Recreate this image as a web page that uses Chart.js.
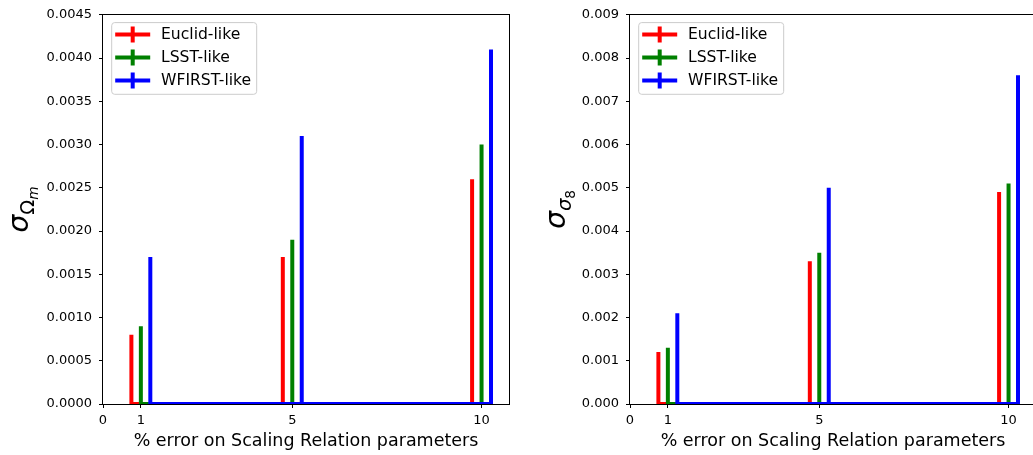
<!DOCTYPE html>
<html>
<head>
<meta charset="utf-8">
<script src="https://cdn.jsdelivr.net/npm/chart.js@4.4.1/dist/chart.umd.min.js"></script>
<style>
  html, body { margin: 0; padding: 0; background: #fff; overflow: hidden; width: 1033px; height: 455px; }
  .panel { position: absolute; top: 0; width: 520px; height: 455px; }
  #omegaPanel { left: 0; }
  #sigmaPanel { left: 527px; }
</style>
</head>
<body>
<div class="panel" id="omegaPanel"><canvas id="omegaChart"></canvas></div>
<div class="panel" id="sigmaPanel"><canvas id="sigmaChart"></canvas></div>
<script>
// Percentage error assumed on the scaling-relation parameters
const errorPercent = [1, 5, 10];
const surveyNames = ['Euclid-like', 'LSST-like', 'WFIRST-like'];

// Forecast uncertainty on Omega_m
const omegaEuclid  = [0.0008, 0.0017, 0.0026];
const omegaLSST    = [0.0009, 0.0019, 0.0030];
const omegaWFIRST  = [0.0017, 0.0031, 0.0041];

// Forecast uncertainty on sigma_8
const sigma8Euclid = [0.0012, 0.0033, 0.0049];
const sigma8LSST   = [0.0013, 0.0035, 0.0051];
const sigma8WFIRST = [0.0021, 0.0050, 0.0076];

// Tick labels
const xTickValues = [0, 1, 5, 10];
const omegaTicks  = [0, 0.0005, 0.0010, 0.0015, 0.0020, 0.0025, 0.0030, 0.0035, 0.0040, 0.0045];
const sigma8Ticks = [0, 0.001, 0.002, 0.003, 0.004, 0.005, 0.006, 0.007, 0.008, 0.009];

// Styling
const surveyColors = ['#ff0000', '#008000', '#0000ff'];
const surveyShift = [-0.25, 0, 0.25];   // side-by-side offset of each survey around a category
const X_MAX = 10.725;
const FONT = "'DejaVu Sans', 'Liberation Sans', sans-serif";

// Error bars rising from zero, joined along the baseline (errorbar style)
function errorBarPath(values, shift) {
  const pts = [];
  values.forEach((v, i) => {
    const x = errorPercent[i] + shift;
    if (i > 0) pts.push({ x: x, y: 0 });
    pts.push({ x: x, y: v });
    pts.push({ x: x, y: 0 });
  });
  return pts;
}

function makeDatasets(seriesList) {
  return seriesList.map((values, k) => ({
    label: surveyNames[k],
    data: errorBarPath(values, surveyShift[k]),
    borderColor: surveyColors[k],
    backgroundColor: surveyColors[k],
    borderWidth: 4,
    borderJoinStyle: 'miter',
    pointRadius: 0,
    tension: 0,
    fill: false,
    clip: 0,
    order: seriesList.length - k
  }));
}

// Frame around the plotting area
const framePlugin = {
  id: 'frame',
  afterDatasetsDraw(chart) {
    const { ctx, chartArea: a } = chart;
    ctx.save();
    ctx.strokeStyle = '#000';
    ctx.lineWidth = 1;
    ctx.strokeRect(Math.round(a.left) - 0.5, Math.round(a.top) - 0.5,
                   Math.round(a.right - a.left) + 1, Math.round(a.bottom - a.top) + 1);
    ctx.restore();
  }
};

// Legend box with errorbar-style markers
const errorLegendPlugin = {
  id: 'errorLegend',
  afterDraw(chart) {
    const { ctx, chartArea: a } = chart;
    const ds = chart.data.datasets;
    ctx.save();
    ctx.font = '15.6px ' + FONT;
    const textW = Math.max(...ds.map(d => ctx.measureText(d.label).width));
    const boxL = a.left + 8.7, boxT = a.top + 7.8;
    const textOff = 49.3;
    const boxW = textOff + textW + 5.5, boxH = 71.7, r = 3;
    ctx.beginPath();
    ctx.moveTo(boxL + r, boxT);
    ctx.lineTo(boxL + boxW - r, boxT);
    ctx.arcTo(boxL + boxW, boxT, boxL + boxW, boxT + r, r);
    ctx.lineTo(boxL + boxW, boxT + boxH - r);
    ctx.arcTo(boxL + boxW, boxT + boxH, boxL + boxW - r, boxT + boxH, r);
    ctx.lineTo(boxL + r, boxT + boxH);
    ctx.arcTo(boxL, boxT + boxH, boxL, boxT + boxH - r, r);
    ctx.lineTo(boxL, boxT + r);
    ctx.arcTo(boxL, boxT, boxL + r, boxT, r);
    ctx.closePath();
    ctx.fillStyle = 'rgba(255,255,255,0.8)';
    ctx.fill();
    ctx.strokeStyle = '#cccccc';
    ctx.lineWidth = 1;
    ctx.stroke();
    ds.forEach((d, i) => {
      const y = boxT + 12 + i * 23;
      const iconL = boxL + 3.5, iconW = 35;
      ctx.strokeStyle = d.borderColor;
      ctx.lineWidth = 4;
      ctx.beginPath();
      ctx.moveTo(iconL, y);
      ctx.lineTo(iconL + iconW, y);
      ctx.moveTo(iconL + iconW / 2, y - 8);
      ctx.lineTo(iconL + iconW / 2, y + 8);
      ctx.stroke();
      ctx.fillStyle = '#000';
      ctx.textBaseline = 'middle';
      ctx.textAlign = 'left';
      ctx.fillText(d.label, boxL + textOff, y + 0.5);
    });
    ctx.restore();
  }
};

// Rotated y-axis symbol with nested subscripts
const axisSymbolPlugin = {
  id: 'axisSymbol',
  afterDraw(chart, args, opts) {
    const { ctx, chartArea: a } = chart;
    const parts = opts.parts || [];
    ctx.save();
    let total = 0;
    parts.forEach(p => {
      ctx.font = (p.italic ? 'italic ' : '') + p.size + 'px ' + FONT;
      p.w = ctx.measureText(p.text).width;
      total += p.w;
    });
    ctx.translate(opts.x, (a.top + a.bottom) / 2);
    ctx.rotate(-Math.PI / 2);
    ctx.fillStyle = '#000';
    ctx.textBaseline = 'alphabetic';
    ctx.textAlign = 'left';
    let cx = -total / 2;
    parts.forEach(p => {
      ctx.font = (p.italic ? 'italic ' : '') + p.size + 'px ' + FONT;
      ctx.fillText(p.text, cx, opts.baseline + p.drop);
      cx += p.w;
    });
    ctx.restore();
  }
};

function makeChart(canvasId, seriesList, ticks, yMax, decimals, symbolParts, symbolX) {
  return new Chart(document.getElementById(canvasId), {
    type: 'line',
    data: { datasets: makeDatasets(seriesList) },
    options: {
      responsive: true,
      maintainAspectRatio: false,
      animation: false,
      events: [],
      layout: { padding: { left: 0, top: 13, right: 11, bottom: 0 } },
      plugins: {
        legend: { display: false },
        tooltip: { enabled: false },
        axisSymbol: { parts: symbolParts, x: symbolX, baseline: 6 }
      },
      scales: {
        x: {
          type: 'linear',
          min: 0,
          max: X_MAX,
          afterBuildTicks: s => { s.ticks = xTickValues.map(v => ({ value: v })); },
          afterFit: s => { s.height = 51; },
          ticks: { font: { family: FONT, size: 13 }, color: '#000', padding: 5, maxRotation: 0,
                   autoSkip: false, callback: v => String(v) },
          grid: { drawOnChartArea: false, drawTicks: true, tickLength: 4, color: '#000', lineWidth: 1 },
          border: { display: false },
          title: { display: true, text: '% error on Scaling Relation parameters',
                   font: { family: FONT, size: 17.5 }, color: '#000', padding: { top: 0, bottom: 3 } }
        },
        y: {
          type: 'linear',
          min: 0,
          max: yMax,
          afterBuildTicks: s => { s.ticks = ticks.map(v => ({ value: v })); },
          afterFit: s => { s.width = 103; },
          ticks: { font: { family: FONT, size: 13 }, color: '#000', padding: 7,
                   callback: v => Number(v).toFixed(decimals) },
          grid: { drawOnChartArea: false, drawTicks: true, tickLength: 4, color: '#000', lineWidth: 1 },
          border: { display: false }
        }
      }
    },
    plugins: [framePlugin, errorLegendPlugin, axisSymbolPlugin]
  });
}

makeChart('omegaChart', [omegaEuclid, omegaLSST, omegaWFIRST], omegaTicks, 0.0045, 4, [
  { text: 'σ', size: 28, italic: true, drop: 0 },
  { text: 'Ω', size: 19.6, italic: false, drop: 6 },
  { text: 'm', size: 13.7, italic: true, drop: 10 }
], 22);

makeChart('sigmaChart', [sigma8Euclid, sigma8LSST, sigma8WFIRST], sigma8Ticks, 0.009, 3, [
  { text: 'σ', size: 28, italic: true, drop: 0 },
  { text: 'σ', size: 19.6, italic: true, drop: 6 },
  { text: '8', size: 13.7, italic: false, drop: 10 }
], 32);
</script>
</body>
</html>
